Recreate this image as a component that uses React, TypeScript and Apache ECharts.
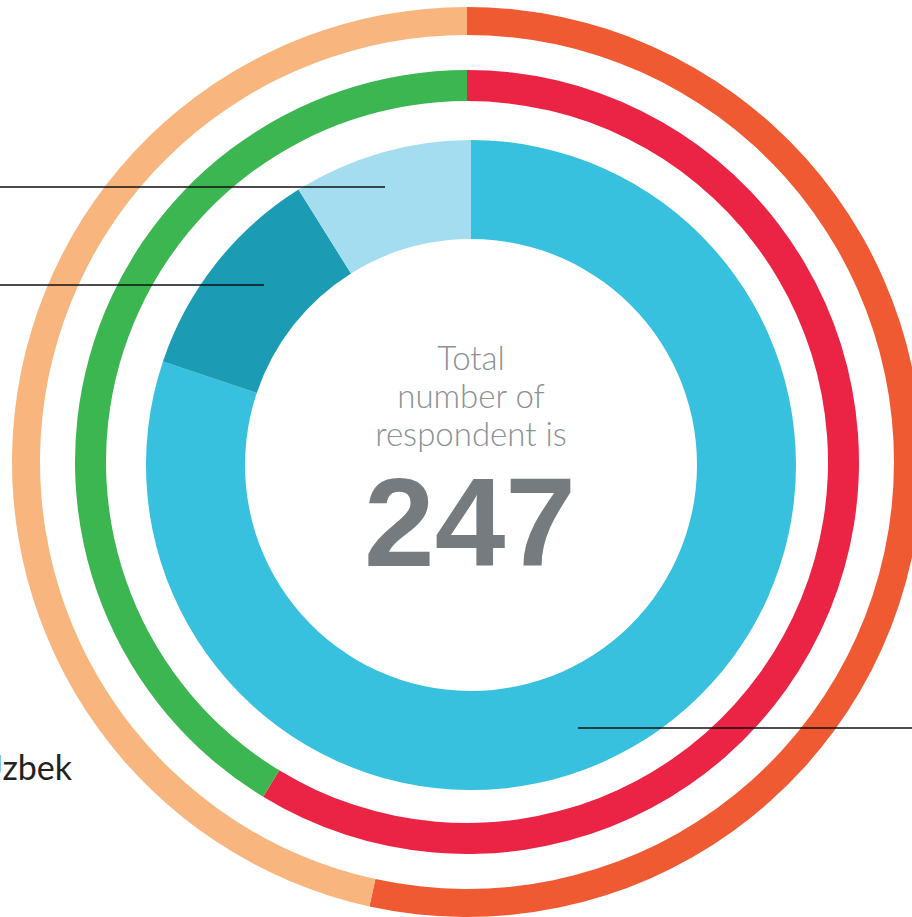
import React, { useEffect, useRef } from "react";
import * as echarts from "echarts";

const outerNames = ["Group A", "Group B"];
const outerValues = [132, 115];
const middleNames = ["Group C", "Group D"];
const middleValues = [145, 102];
const innerNames = ["Main", "Second", "Third"];
const innerValues = [198, 27, 22];
const totalRespondents = 247;
const centerLines = ["Total", "number of", "respondent is"];
const sideLabel = "Uzbek";

export default function App() {
  const ref = useRef<HTMLDivElement>(null);
  useEffect(() => {
    document.body.style.margin = "0";
    const chart = echarts.init(ref.current!, null, { renderer: "svg" });
    const mk = (names: string[], vals: number[], colors: string[]) =>
      names.map((n, i) => ({ name: n, value: vals[i], itemStyle: { color: colors[i] } }));
    const pieBase = {
      type: "pie",
      startAngle: 90,
      clockwise: true,
      label: { show: false },
      labelLine: { show: false },
      silent: true,
      z: 1,
    };
    chart.setOption({
      animation: false,
      backgroundColor: "#ffffff",
      series: [
        { ...pieBase, center: [467, 462], radius: [427, 455], data: mk(outerNames, outerValues, ["#F05A32", "#F9B57E"]) },
        { ...pieBase, center: [467, 462], radius: [361, 392], data: mk(middleNames, middleValues, ["#EB2344", "#3CB650"]) },
        { ...pieBase, center: [471, 465], radius: [226, 325], data: mk(innerNames, innerValues, ["#38C1DE", "#1C9CB4", "#A5DDF0"]) },
      ],
      graphic: [
        ...centerLines.map((t, i) => ({
          type: "text",
          x: 471,
          y: 357 + i * 38,
          z: 100,
          style: {
            text: t,
            fill: "#8B9194",
            font: "300 33px Lato, 'Open Sans', sans-serif",
            textAlign: "center",
            textVerticalAlign: "middle",
          },
        })),
        {
          type: "text",
          x: 470,
          y: 522,
          z: 100,
          style: {
            text: String(totalRespondents),
            fill: "#757B7E",
            font: "900 127px 'Liberation Sans', Arial, sans-serif",
            textAlign: "center",
            textVerticalAlign: "middle",
          },
        },
        {
          type: "text",
          x: -22,
          y: 766,
          z: 100,
          style: {
            text: sideLabel,
            fill: "#222222",
            font: "34px Lato, 'Open Sans', sans-serif",
            textAlign: "left",
            textVerticalAlign: "middle",
          },
        },
        { type: "line", z: 100, shape: { x1: 0, y1: 187, x2: 385, y2: 187 }, style: { stroke: "#111", lineWidth: 1.6 } },
        { type: "line", z: 100, shape: { x1: 0, y1: 285, x2: 264, y2: 285 }, style: { stroke: "#111", lineWidth: 1.6 } },
        { type: "line", z: 100, shape: { x1: 578, y1: 728, x2: 912, y2: 728 }, style: { stroke: "#111", lineWidth: 1.6 } },
      ],
    });
    return () => chart.dispose();
  }, []);
  return <div ref={ref} style={{ width: 912, height: 917 }} />;
}
